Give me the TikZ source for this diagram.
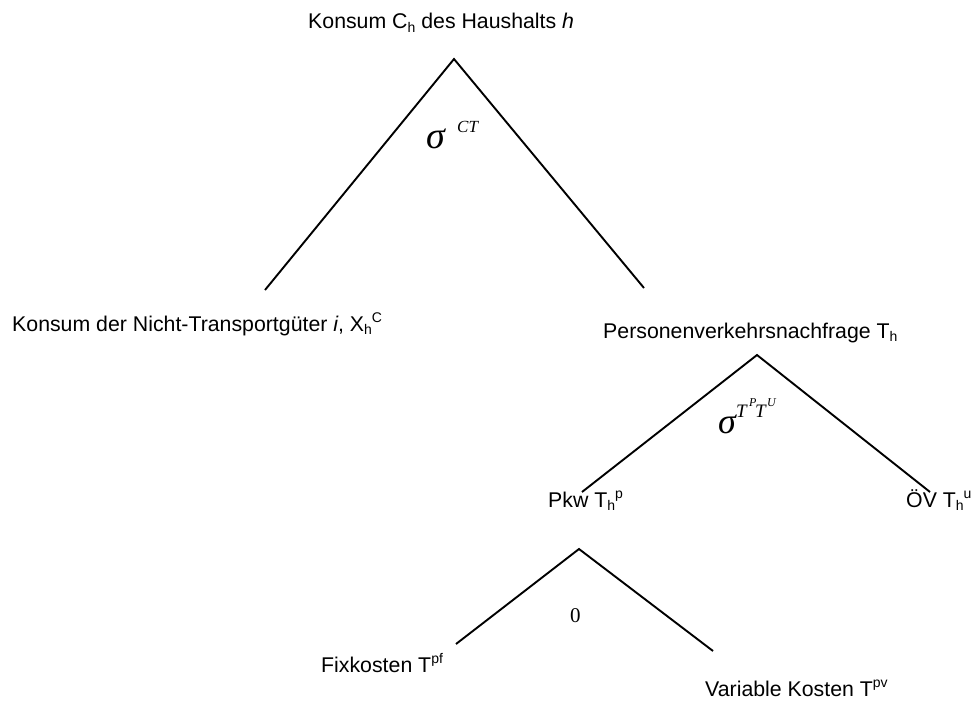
\documentclass[tikz,border=0pt]{standalone}
\usepackage{fontspec}
\setmainfont{Liberation Sans}
\newfontfamily\tms{Liberation Serif}
\newcommand\mysub[1]{\raisebox{-0.3ex}{\fontsize{14}{14}\selectfont #1}}
\newcommand\mysup[1]{\raisebox{0.75ex}{\fontsize{14}{14}\selectfont #1}}
\begin{document}
\begin{tikzpicture}[x=1pt,y=-1pt,
  lbl/.style={inner sep=0pt,anchor=base west,font=\fontsize{21.3}{25}\selectfont},
  mth/.style={inner sep=0pt,anchor=base west},
  leg/.style={line width=1.9pt,line join=miter}]
\useasboundingbox (0,0) rectangle (973,701);
% labels
\node[lbl] (top) at (308,29) {Konsum C\mysub{h} des Haushalts \textit{h}};
\node[lbl] (ntg) at (12,331) {Konsum der Nicht-Transportgüter \textit{i}, X\mysub{h}\mysup{C}};
\node[lbl] (pvn) at (603,338) {Personenverkehrsnachfrage T\mysub{h}};
\node[lbl] (pkw) at (548,507) {Pkw T\mysub{h}\mysup{p}};
\node[lbl] (oev) at (906,507) {ÖV T\mysub{h}\mysup{u}};
\node[lbl] (fix) at (321,672) {Fixkosten T\mysup{pf}};
\node[lbl] (var) at (705,696) {Variable Kosten T\mysup{pv}};
% elasticities
\node[mth,font=\tms\itshape\fontsize{38}{38}\selectfont] (s1) at (426,148) {σ};
\node[mth,font=\tms\itshape\fontsize{17}{17}\selectfont] (s1e) at (457,132) {CT};
\node[mth,font=\tms\itshape\fontsize{36}{36}\selectfont] (s2) at (718,433) {σ};
\node[mth,font=\tms\itshape\fontsize{19}{19}\selectfont] (s2t1) at (736,417) {T};
\node[mth,font=\tms\itshape\fontsize{12}{12}\selectfont] (s2p) at (749,406) {P};
\node[mth,font=\tms\itshape\fontsize{19}{19}\selectfont] (s2t2) at (755,417) {T};
\node[mth,font=\tms\itshape\fontsize{12}{12}\selectfont] (s2u) at (767,406) {U};
\node[mth,font=\tms\fontsize{21}{21}\selectfont] (zero) at (570,622) {0};
% tree coordinates
\coordinate (a1) at (454,59);
\coordinate (a1l) at (265,290);
\coordinate (a1r) at (644,288);
\coordinate (a2) at (757,355);
\coordinate (a2l) at (582,492);
\coordinate (a2r) at (930,492);
\coordinate (a3) at (579,549);
\coordinate (a3l) at (456,644);
\coordinate (a3r) at (713,651);
\draw[leg] (a1l) -- (a1) -- (a1r);
\draw[leg] (a2l) -- (a2) -- (a2r);
\draw[leg] (a3l) -- (a3) -- (a3r);
\end{tikzpicture}
\end{document}
